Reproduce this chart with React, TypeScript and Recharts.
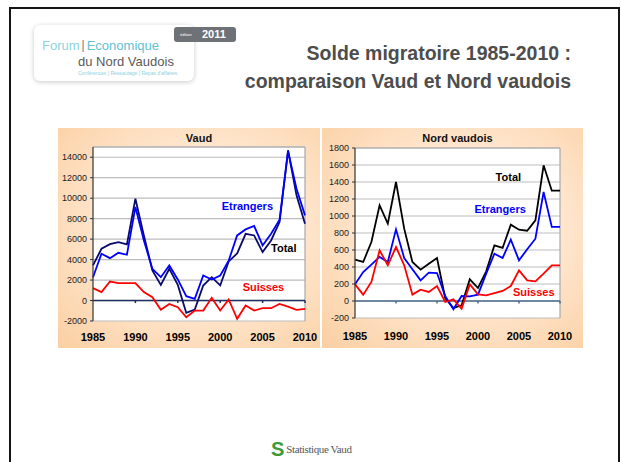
import {
  CartesianGrid,
  Line,
  LineChart,
  ReferenceDot,
  ReferenceLine,
  XAxis,
  YAxis,
} from "recharts";

const years = [
  1985, 1986, 1987, 1988, 1989, 1990, 1991, 1992, 1993, 1994, 1995, 1996, 1997,
  1998, 1999, 2000, 2001, 2002, 2003, 2004, 2005, 2006, 2007, 2008, 2009, 2010,
];
const yearTicks = [1985, 1990, 1995, 2000, 2005, 2010];

// Vaud
const vaudTotal = [
  3430, 5060, 5510, 5710, 5480, 9950, 6360, 2940, 1530, 3100, 1530, -1210, -880,
  1470, 2280, 1470, 3820, 4600, 6520, 6360, 4730, 5870, 7670, 14680, 10280, 7500,
];
const vaudEtrangers = [
  2280, 4570, 4140, 4660, 4470, 9140, 5870, 3100, 2280, 3430, 2060, 420, 160,
  2450, 2060, 2450, 3900, 6360, 6950, 7280, 5380, 6520, 7900, 14580, 10930, 8320,
];
const vaudSuisses = [
  1210, 820, 1860, 1700, 1700, 1700, 820, 330, -910, -330, -650, -1630, -980,
  -980, 260, -980, 100, -1790, -490, -980, -750, -750, -330, -590, -910, -820,
];
const vaudTicks = [-2000, 0, 2000, 4000, 6000, 8000, 10000, 12000, 14000];

// Nord vaudois
const nordTotal = [
  486, 459, 694, 1125, 910, 1400, 851, 459, 369, 439, 506, 35, -82, -51, 255,
  153, 349, 655, 624, 898, 839, 827, 949, 1596, 1298, 1298,
];
const nordEtrangers = [
  196, 341, 427, 518, 459, 843, 506, 373, 243, 333, 329, 59, -98, 59, 55, 75,
  322, 557, 506, 722, 478, 608, 733, 1282, 871, 871,
];
const nordSuisses = [
  196, 75, 224, 596, 420, 635, 420, 75, 133, 106, 176, -12, 20, -90, 196, 78,
  67, 94, 118, 176, 361, 243, 231, 322, 420, 420,
];
const nordTicks = [-200, 0, 200, 400, 600, 800, 1000, 1200, 1400, 1600, 1800];

const vaudData = years.map((y, i) => ({
  year: y,
  total: vaudTotal[i],
  etrangers: vaudEtrangers[i],
  suisses: vaudSuisses[i],
}));
const nordData = years.map((y, i) => ({
  year: y,
  total: nordTotal[i],
  etrangers: nordEtrangers[i],
  suisses: nordSuisses[i],
}));

const FONT = "'Liberation Sans', Arial, sans-serif";

type Note = { text: string; x: number; y: number; color: string };

type PanelProps = {
  title: string;
  data: typeof vaudData;
  left: number;
  width: number;
  yWidth: number;
  margin: { top: number; right: number; left: number; bottom: number };
  domain: [number, number];
  ticks: number[];
  totalColor: string;
  zeroColor: string;
  labelGap: number;
  notes: Note[];
  tickDrop: number;
};

const Panel = (p: PanelProps) => {
  const height = 220;
  const plotLeft = p.yWidth + p.margin.left;
  const plotWidth = p.width - plotLeft - p.margin.right;
  return (
    <div
      style={{
        position: "absolute",
        left: p.left,
        top: 128,
        width: p.width,
        height,
        background:
          "radial-gradient(ellipse at 55% 45%, #fff4e9 0%, #fee3c8 55%, #fbcfa2 100%)",
      }}
    >
      <div
        style={{
          position: "absolute",
          left: plotLeft,
          width: plotWidth,
          top: 4,
          textAlign: "center",
          fontFamily: FONT,
          fontWeight: "bold",
          fontSize: 11,
          color: "#111",
        }}
      >
        {p.title}
      </div>
      <LineChart width={p.width} height={height} data={p.data} margin={p.margin}>
        <CartesianGrid vertical={false} stroke="#bdbdbd" strokeWidth={1.2} fill="#ffffff" />
        <XAxis
          dataKey="year"
          type="number"
          domain={[1985, 2010]}
          ticks={yearTicks}
          axisLine={false}
          tickLine={false}
          tickSize={0}
          tickMargin={p.labelGap}
          height={20}
          tick={{ fontSize: 11, fontWeight: "bold", fill: "#000", fontFamily: FONT }}
        />
        <YAxis
          type="number"
          domain={p.domain}
          ticks={p.ticks}
          width={p.yWidth}
          allowDataOverflow
          interval={0}
          axisLine={{ stroke: "#333", strokeWidth: 1.2 }}
          tickLine={{ stroke: "#333" }}
          tickSize={3}
          tickMargin={3}
          tick={{ fontSize: 9, fill: "#222", fontFamily: FONT }}
        />
        <ReferenceLine y={p.domain[1]} stroke="#a8a8a8" strokeWidth={1.2} />
        <ReferenceLine x={2010} stroke="#a8a8a8" strokeWidth={1.2} />
        <ReferenceLine y={0} stroke={p.zeroColor} strokeWidth={1.5} />
        {yearTicks.slice(1).map((t) => (
          <ReferenceLine
            key={t}
            segment={[
              { x: t, y: 0 },
              { x: t, y: -p.tickDrop },
            ]}
            stroke={p.zeroColor}
            strokeWidth={1.5}
          />
        ))}
        <Line
          type="linear"
          dataKey="total"
          stroke={p.totalColor}
          strokeWidth={1.8}
          dot={false}
          isAnimationActive={false}
        />
        <Line
          type="linear"
          dataKey="etrangers"
          stroke="#0000ff"
          strokeWidth={1.8}
          dot={false}
          isAnimationActive={false}
        />
        <Line
          type="linear"
          dataKey="suisses"
          stroke="#ff0000"
          strokeWidth={1.8}
          dot={false}
          isAnimationActive={false}
        />
        {p.notes.map((n) => (
          <ReferenceDot
            key={n.text}
            x={n.x}
            y={n.y}
            r={0}
            fill="none"
            stroke="none"
            label={{
              value: n.text,
              position: "center",
              fill: n.color,
              fontSize: 11,
              fontWeight: "bold",
              fontFamily: FONT,
            }}
          />
        ))}
      </LineChart>
    </div>
  );
};

const App = () => {
  return (
    <div
      style={{
        position: "absolute",
        left: 0,
        top: 0,
        width: 621,
        height: 462,
        background: "#fff",
        overflow: "hidden",
        fontFamily: FONT,
      }}
    >
      {/* slide frame */}
      <div
        style={{
          position: "absolute",
          left: 9,
          top: 7,
          width: 607,
          height: 480,
          border: "2px solid #151515",
        }}
      />

      {/* forum logo */}
      <div
        style={{
          position: "absolute",
          left: 34,
          top: 25,
          width: 160,
          height: 56,
          background: "#fff",
          borderRadius: 6,
          boxShadow: "0 1px 5px rgba(0,0,0,0.22)",
        }}
      >
        <div
          style={{
            position: "absolute",
            left: 8,
            top: 14,
            fontSize: 13,
            lineHeight: "13px",
            color: "#8fd3df",
            whiteSpace: "nowrap",
            display: "flex",
          }}
        >
          <span>Forum</span>
          <span style={{ color: "#777", marginLeft: 2, marginRight: 2, fontSize: 12 }}>|</span>
          <span style={{ color: "#62c2d2" }}>Economique</span>
        </div>
        <div
          style={{
            position: "absolute",
            left: 44,
            top: 30,
            fontSize: 13,
            lineHeight: "13px",
            color: "#5a5a5a",
            whiteSpace: "nowrap",
          }}
        >
          du Nord Vaudois
        </div>
        <div
          style={{
            position: "absolute",
            left: 44,
            top: 45,
            fontSize: 5,
            lineHeight: "6px",
            color: "#8fcfd9",
            whiteSpace: "nowrap",
          }}
        >
          Conférences | Réseautage | Repas d'affaires
        </div>
      </div>
      <div
        style={{
          position: "absolute",
          left: 174,
          top: 27,
          width: 62,
          height: 15,
          background: "#6e7175",
          borderRadius: 3,
          color: "#fff",
          whiteSpace: "nowrap",
        }}
      >
        <span style={{ position: "absolute", left: 6, top: 5, fontSize: 4 }}>
          édition
        </span>
        <span
          style={{
            position: "absolute",
            left: 28,
            top: 1,
            fontSize: 11,
            fontWeight: "bold",
          }}
        >
          2011
        </span>
      </div>

      {/* title */}
      <div
        style={{
          position: "absolute",
          right: 50,
          top: 39,
          textAlign: "right",
          fontSize: 19.5,
          lineHeight: "28px",
          fontWeight: "bold",
          color: "#4d4d4d",
          whiteSpace: "nowrap",
        }}
      >
        Solde migratoire 1985-2010 :
        <br />
        comparaison Vaud et Nord vaudois
      </div>

      <Panel
        title="Vaud"
        data={vaudData}
        left={58}
        width={262}
        yWidth={35}
        margin={{ top: 19, right: 15, left: 0, bottom: 7 }}
        domain={[-2000, 15000]}
        ticks={vaudTicks}
        totalColor="#0a0a6a"
        zeroColor="#1c2f5e"
        labelGap={12}
        tickDrop={250}
        notes={[
          { text: "Etrangers", x: 2003.2, y: 9190, color: "#0000ff" },
          { text: "Total", x: 2007.5, y: 5085, color: "#000" },
          { text: "Suisses", x: 2005.1, y: 1270, color: "#ff0000" },
        ]}
      />
      <Panel
        title="Nord vaudois"
        data={nordData}
        left={322}
        width={261}
        yWidth={33}
        margin={{ top: 20, right: 23, left: 0, bottom: 10 }}
        domain={[-200, 1800]}
        ticks={nordTicks}
        totalColor="#000000"
        zeroColor="#4a6a8a"
        labelGap={14}
        tickDrop={30}
        notes={[
          { text: "Total", x: 2003.7, y: 1455, color: "#000" },
          { text: "Etrangers", x: 2002.7, y: 1078, color: "#0000ff" },
          { text: "Suisses", x: 2006.8, y: 102, color: "#ff0000" },
        ]}
      />

      {/* footer logo */}
      <div
        style={{
          position: "absolute",
          left: 271,
          top: 439,
          whiteSpace: "nowrap",
          display: "flex",
          alignItems: "center",
        }}
      >
        <span
          style={{
            fontSize: 20,
            fontWeight: "bold",
            color: "#3f9b3a",
            fontFamily: FONT,
            lineHeight: "20px",
          }}
        >
          S
        </span>
        <span
          style={{
            marginLeft: 2,
            fontSize: 11,
            letterSpacing: -0.4,
            color: "#555",
            fontFamily: "'Liberation Serif', 'DejaVu Serif', serif",
          }}
        >
          Statistique Vaud
        </span>
      </div>
    </div>
  );
};

export default App;
